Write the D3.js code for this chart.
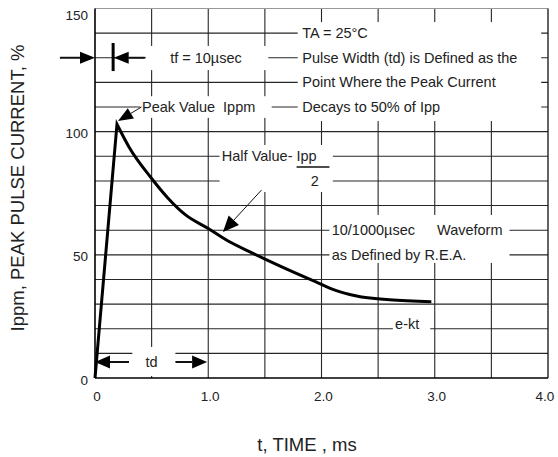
<!DOCTYPE html>
<html>
<head>
<meta charset="utf-8">
<script src="https://cdn.jsdelivr.net/npm/d3@7"></script>
<style>
  body { margin: 0; background: #fff; }
  svg { display: block; font-family: "Liberation Sans", Arial, sans-serif; }
</style>
</head>
<body>
<svg id="chart" width="558" height="457"></svg>
<script>
// 10/1000 usec pulse waveform
const timeMs   = [0, 0.194, 0.3, 0.5, 0.645, 0.8, 1.0, 1.16, 1.4, 1.63, 2.0, 2.1, 2.31, 2.6, 2.97];
const pulsePct = [0, 103, 93.8, 81, 73, 66.2, 60.7, 56, 50.5, 45.5, 38, 36, 33.3, 31.8, 31];

const xTicks      = [0, 1, 2, 3, 4];
const xTickLabels = ["0", "1.0", "2.0", "3.0", "4.0"];
const yTicks      = [0, 50, 100, 150];
const xGrid = [0.5, 1, 1.5, 2, 2.5, 3, 3.5];
const yGrid = [10, 20, 30, 40, 50, 60, 70, 80, 90, 100, 110, 120, 130, 140];

const noteLines = ["TA = 25°C", "Pulse Width (td) is Defined as the",
                   "Point Where the Peak Current", "Decays to 50% of Ipp"];

const svg = d3.select("#chart");
const x = d3.scaleLinear().domain([0, 4]).range([95, 548]);
const y = d3.scaleLinear().domain([0, 150]).range([378, 8.5]);

// grid
const grid = svg.append("g").attr("stroke", "#262626").attr("stroke-width", 1.1);
grid.selectAll("line.v").data(xGrid).enter().append("line")
  .attr("x1", d => x(d)).attr("x2", d => x(d))
  .attr("y1", y(150)).attr("y2", y(0));
grid.selectAll("line.h").data(yGrid).enter().append("line")
  .attr("x1", x(0)).attr("x2", x(4))
  .attr("y1", d => y(d)).attr("y2", d => y(d));

// white knock-outs behind the notes: [t0, t1, v0, v1]
const knockouts = [
  [1.79, 3.94, 104.3, 144.5],   // TA block
  [0.45, 1.53, 125, 134.8],     // tf
  [0.40, 1.56, 105.6, 114.4],   // peak value
  [1.10, 2.10, 75.5, 94.6],     // half value
  [2.07, 3.66, 46.7, 66.2],     // waveform
  [2.63, 2.96, 18.5, 26.8],     // e-kt
  [0.33, 0.71, 0.8, 12.6]       // td
];
svg.append("g").selectAll("rect").data(knockouts).enter().append("rect")
  .attr("x", d => x(d[0])).attr("width", d => x(d[1]) - x(d[0]))
  .attr("y", d => y(d[3])).attr("height", d => y(d[2]) - y(d[3]))
  .attr("fill", "#fff");

// frame
svg.append("line").attr("x1", x(0)).attr("x2", x(4)).attr("y1", y(150)).attr("y2", y(150))
  .attr("stroke", "#999").attr("stroke-width", 1);
svg.append("line").attr("x1", x(4)).attr("x2", x(4)).attr("y1", y(150)).attr("y2", y(0))
  .attr("stroke", "#111").attr("stroke-width", 1.3);
svg.append("line").attr("x1", x(0)).attr("x2", x(0)).attr("y1", y(150)).attr("y2", y(0))
  .attr("stroke", "#000").attr("stroke-width", 1.6);
svg.append("line").attr("x1", x(0)).attr("x2", x(4)).attr("y1", y(0)).attr("y2", y(0))
  .attr("stroke", "#000").attr("stroke-width", 1.6);

// tick labels
svg.append("g").selectAll("text").data(xTicks).enter().append("text")
  .attr("x", d => Math.min(x(d) + 2, 545)).attr("y", 396)
  .attr("text-anchor", "middle").attr("dominant-baseline", "central")
  .attr("font-size", 13.5).attr("fill", "#222")
  .text((d, i) => xTickLabels[i]);
svg.append("g").selectAll("text").data(yTicks).enter().append("text")
  .attr("x", 88).attr("y", d => Math.max(y(d) + 2, 15))
  .attr("text-anchor", "end").attr("dominant-baseline", "central")
  .attr("font-size", 13.5).attr("fill", "#222")
  .text(d => d);

// axis titles
svg.append("text").attr("x", 307).attr("y", 444)
  .attr("text-anchor", "middle").attr("dominant-baseline", "central")
  .attr("font-size", 18.5).attr("fill", "#222")
  .text("t, TIME , ms");
svg.append("text").attr("transform", "translate(17,188) rotate(-90)")
  .attr("text-anchor", "middle").attr("dominant-baseline", "central")
  .attr("font-size", 18.5).attr("fill", "#222")
  .text("Ippm, PEAK PULSE CURRENT, %");

// waveform: straight rise, smooth decay
const pts = timeMs.map((t, i) => [t, pulsePct[i]]);
const rise = d3.line().x(d => x(d[0])).y(d => y(d[1]));
const decay = d3.line().x(d => x(d[0])).y(d => y(d[1])).curve(d3.curveMonotoneX);
svg.append("path").attr("d", rise(pts.slice(0, 2)) + decay(pts.slice(1)).replace(/^M[^LC]*/, ""))
  .attr("fill", "none").attr("stroke", "#000").attr("stroke-width", 3)
  .attr("stroke-linejoin", "miter");

// arrows
function arrow(t1, v1, t2, v2, len, half, sw) {
  const x1 = x(t1), y1 = y(v1), x2 = x(t2), y2 = y(v2);
  const a = Math.atan2(y2 - y1, x2 - x1);
  const bx = x2 - len * Math.cos(a), by = y2 - len * Math.sin(a);
  svg.append("line").attr("x1", x1).attr("y1", y1).attr("x2", bx).attr("y2", by)
    .attr("stroke", "#111").attr("stroke-width", sw);
  const px = -Math.sin(a) * half, py = Math.cos(a) * half;
  svg.append("path")
    .attr("d", `M${x2},${y2}L${bx + px},${by + py}L${bx - px},${by - py}Z`)
    .attr("fill", "#000");
}
arrow(-0.31, 130, 0, 130, 15, 6, 2);
arrow(0.44, 130, 0.165, 130, 15, 6, 2);
svg.append("line").attr("x1", x(0.16)).attr("x2", x(0.16)).attr("y1", y(136)).attr("y2", y(124.6))
  .attr("stroke", "#000").attr("stroke-width", 3);
arrow(0.41, 110, 0.203, 104.3, 15, 6, 1);
arrow(1.47, 76.3, 1.13, 59.3, 16, 7, 1);
arrow(0.30, 6.5, 0, 6.5, 15, 6.5, 2);
arrow(0.71, 6.5, 0.99, 6.5, 15, 6.5, 2);

// notes
const notes = svg.append("g").attr("font-size", 14.5).attr("fill", "#222")
  .attr("dominant-baseline", "central");
notes.selectAll("text.n").data(noteLines).enter().append("text")
  .attr("x", x(1.83)).attr("y", (d, i) => y(140 - i * 10)).text(d => d);
notes.append("text").attr("x", x(0.98)).attr("y", y(130)).attr("text-anchor", "middle")
  .text("tf = 10µsec");
notes.append("text").attr("x", x(0.415)).attr("y", y(110))
  .text("Peak Value").append("tspan").attr("dx", 8).text("Ippm");
notes.append("text").attr("x", x(1.12)).attr("y", y(90)).text("Half Value- Ipp");
notes.append("text").attr("x", x(1.94)).attr("y", y(80)).attr("text-anchor", "middle").text("2");
svg.append("line").attr("x1", x(1.78)).attr("x2", x(2.07)).attr("y1", y(85.7)).attr("y2", y(85.7))
  .attr("stroke", "#111").attr("stroke-width", 1.5);
const wave = notes.append("text").attr("x", x(2.09)).attr("y", y(60)).text("10/1000µsec");
wave.append("tspan").attr("x", x(3.02)).text("Waveform");
notes.append("text").attr("x", x(2.09)).attr("y", y(50)).text("as Defined by R.E.A.");
notes.append("text").attr("x", x(2.65)).attr("y", y(20)).attr("dominant-baseline", "auto")
  .text("e-kt");
notes.append("text").attr("x", x(0.5)).attr("y", y(6.5)).attr("text-anchor", "middle").text("td");
</script>
</body>
</html>
